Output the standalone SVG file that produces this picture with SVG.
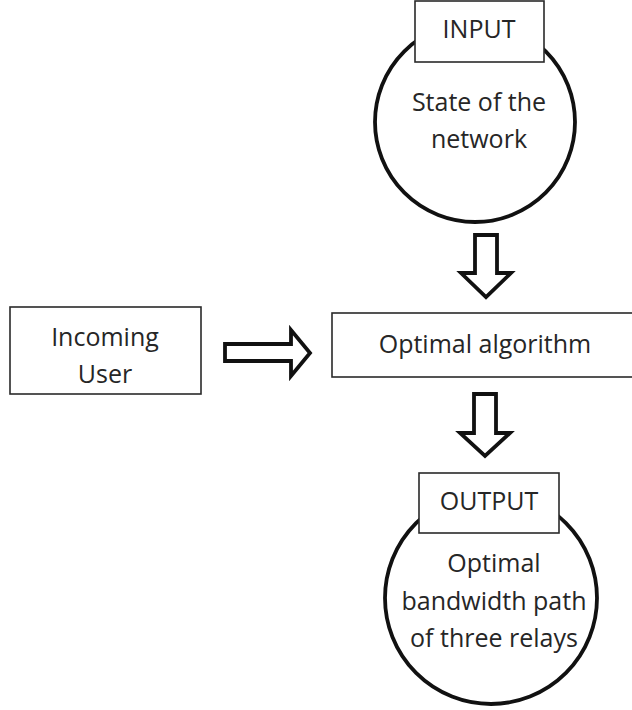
<svg xmlns="http://www.w3.org/2000/svg" width="632" height="710" viewBox="0 0 632 710">
  <style>
    .box { fill: #ffffff; stroke: #2a2a2a; stroke-width: 1.6; }
    .ring { fill: #ffffff; stroke: #111111; stroke-width: 3.8; }
    .arrow { fill: #ffffff; stroke: #111111; stroke-width: 3.8; stroke-linejoin: miter; }
    .label { font-family: "Open Sans", "Liberation Sans", sans-serif; font-size: 25px; fill: #262626; text-anchor: middle; }
  </style>
  <rect width="632" height="710" fill="#ffffff"/>

  <!-- input: state of the network -->
  <g id="input">
    <circle class="ring" cx="475" cy="122" r="100"/>
    <rect class="box" x="415" y="1" width="129" height="61"/>
    <text class="label" x="479" y="38">INPUT</text>
    <text class="label" x="479" y="111">State of the</text>
    <text class="label" x="479" y="148">network</text>
  </g>

  <!-- incoming user -->
  <g id="user">
    <rect class="box" x="10" y="307" width="191" height="87"/>
    <text class="label" x="105" y="346">Incoming</text>
    <text class="label" x="105" y="383">User</text>
  </g>

  <!-- optimal algorithm (runs off the right edge) -->
  <g id="algorithm">
    <rect class="box" x="332" y="313" width="320" height="64"/>
    <text class="label" x="485" y="353">Optimal algorithm</text>
  </g>

  <!-- output: optimal bandwidth path -->
  <g id="output">
    <circle class="ring" cx="491" cy="598" r="106"/>
    <rect class="box" x="419" y="473" width="140" height="60"/>
    <text class="label" x="489" y="510">OUTPUT</text>
    <text class="label" x="494" y="572">Optimal</text>
    <text class="label" x="494" y="610">bandwidth path</text>
    <text class="label" x="494" y="647">of three relays</text>
  </g>

  <!-- block arrows -->
  <g id="connectors">
    <polygon class="arrow" points="475,235 497,235 497,273 511,273 486,297 461,273 475,273"/>
    <polygon class="arrow" points="225,344 291,344 291,330 310,353 291,376 291,361 225,361"/>
    <polygon class="arrow" points="474,394 496,394 496,433 510,433 485,456 460,433 474,433"/>
  </g>
</svg>
